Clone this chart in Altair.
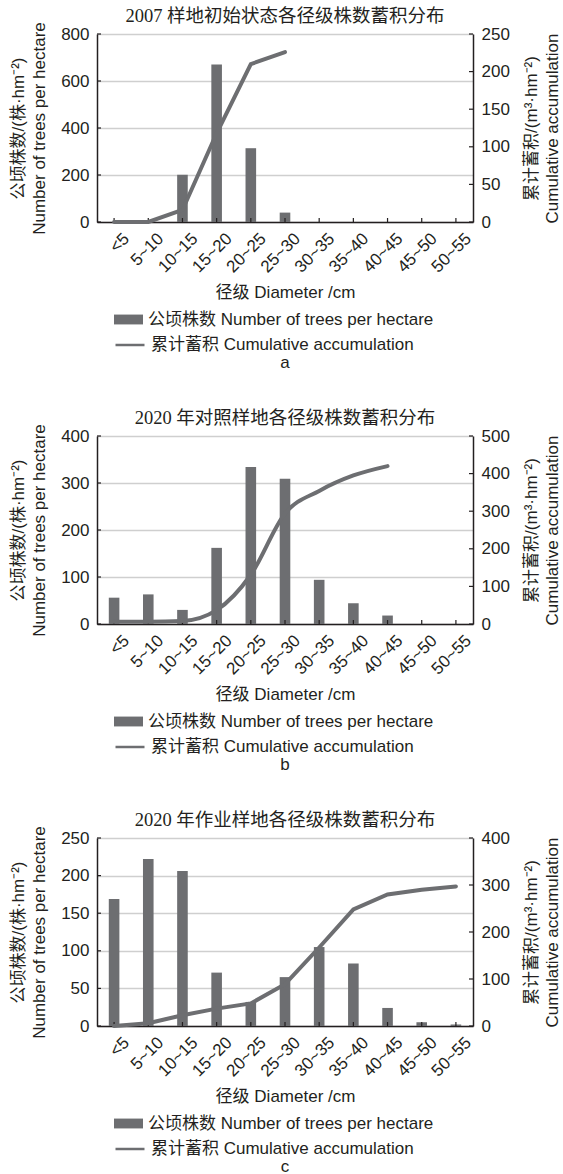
import altair as alt
import pandas as pd

categories = ["<5", "5~10", "10~15", "15~20", "20~25", "25~30",
              "30~35", "35~40", "40~45", "45~50", "50~55"]

# panel a (2007 initial state)
a_trees = [0, 0, 201, 670, 314, 40, 0, 0, 0, 0, 0]
a_cum = [0, 0, 16, 118, 210, 226]
# panel b (2020 control plot)
b_trees = [56, 63, 30, 162, 334, 309, 94, 44, 18, 0, 0]
b_cum = [6, 6, 8, 37, 131, 294, 354, 395, 420]
# panel c (2020 operation plot)
c_trees = [169, 222, 206, 71, 32, 65, 105, 83, 24, 5, 2]
c_cum = [0, 6, 23, 37, 48, 89, 167, 248, 280, 290, 297]

titles = ["2007 样地初始状态各径级株数蓄积分布",
          "2020 年对照样地各径级株数蓄积分布",
          "2020 年作业样地各径级株数蓄积分布"]
captions = ["a", "b", "c"]
left_max = [800, 400, 250]
left_ticks = [[0, 200, 400, 600, 800], [0, 100, 200, 300, 400], [0, 50, 100, 150, 200, 250]]
right_max = [250, 500, 400]
right_ticks = [[0, 50, 100, 150, 200, 250], [0, 100, 200, 300, 400, 500], [0, 100, 200, 300, 400]]
interps = ["linear", "monotone", "linear"]

bar_label = "公顷株数 Number of trees per hectare"
line_label = "累计蓄积 Cumulative accumulation"
left_title = ["公顷株数/(株·hm⁻²)", "Number of trees per hectare"]
right_title = ["累计蓄积/(m³·hm⁻²)", "Cumulative accumulation"]
x_title = "径级 Diameter /cm"

GRAY = "#6d6e71"
INK = "#231f20"
GRID = "#cfcfcf"
SANS = "Liberation Sans, Arial, Noto Sans CJK SC"
SERIF = "Liberation Serif, Times New Roman, Noto Sans CJK SC"
W, H = 376, 188
TICK = 4


def panel(i, trees, cum):
    bars_df = pd.DataFrame({"cat": categories, "n": trees, "s": bar_label})
    line_df = pd.DataFrame({"cat": categories[:len(cum)], "v": cum, "s": line_label})
    cat_df = pd.DataFrame({"cat": categories})
    lt_df = pd.DataFrame({"n": left_ticks[i]})
    rt_df = pd.DataFrame({"v": right_ticks[i]})

    xscale = alt.Scale(domain=categories, paddingInner=0.69, paddingOuter=0.345)
    xaxis = alt.Axis(title=x_title, labelAngle=315, labelFont=SANS, labelFontSize=17,
                     labelColor=INK, labelPadding=8, labelOffset=7, ticks=False,
                     domainColor=INK, domainWidth=1.5, titleFont=SANS, titleFontSize=17,
                     titleFontWeight="normal", titleColor=INK, titlePadding=9,
                     labelLimit=200, labelOverlap=False)
    x = alt.X("cat:N", sort=categories, scale=xscale, axis=xaxis)

    lscale = alt.Scale(domain=[0, left_max[i]], nice=False, zero=True)
    rscale = alt.Scale(domain=[0, right_max[i]], nice=False, zero=True)
    laxis = alt.Axis(values=left_ticks[i], title=left_title, orient="left",
                     grid=True, gridColor=GRID, gridWidth=1.5, ticks=False,
                     domainColor=INK, domainWidth=1.5, labelFont=SANS,
                     labelFontSize=17, labelColor=INK, labelPadding=8,
                     labelOverlap=False, labelBound=False,
                     titleFont=SANS, titleFontSize=17, titleFontWeight="normal",
                     titleColor=INK, titlePadding=12, titleLineHeight=21)
    raxis = alt.Axis(values=right_ticks[i], title=right_title, orient="right",
                     grid=False, ticks=False, domainColor=INK, domainWidth=1.5,
                     labelFont=SANS, labelFontSize=17, labelColor=INK,
                     labelPadding=8, labelOverlap=False, labelBound=False,
                     titleFont=SANS, titleFontSize=17,
                     titleFontWeight="normal", titleColor=INK, titleAngle=270,
                     titlePadding=10, titleLineHeight=21)
    y_left = alt.Y("n:Q", scale=lscale, axis=laxis)
    y_right = alt.Y("v:Q", scale=rscale, axis=raxis)

    bars = alt.Chart(bars_df).mark_bar(strokeWidth=0).encode(
        x=x,
        y=y_left,
        fill=alt.Fill("s:N", scale=alt.Scale(domain=[bar_label], range=[GRAY]),
                      legend=alt.Legend(title=None, orient="none", legendX=17, legendY=271,
                                        symbolType="M-1,-0.34H1V0.34H-1Z", symbolSize=841,
                                        symbolStrokeWidth=0, labelFont=SANS, labelFontSize=17,
                                        labelColor=INK, labelLimit=500, labelOffset=5)),
    )
    xticks = alt.Chart(cat_df).mark_rule(color=INK, strokeWidth=1.2).encode(
        x=x, y=alt.value(H), y2=alt.value(H - TICK))
    lticks = alt.Chart(lt_df).mark_rule(color=INK, strokeWidth=1.2).encode(
        y=y_left, x=alt.value(0), x2=alt.value(TICK))

    line = alt.Chart(line_df).mark_line(strokeWidth=4, interpolate=interps[i],
                                        strokeCap="round").encode(
        x=x,
        y=y_right,
        stroke=alt.Stroke("s:N", scale=alt.Scale(domain=[line_label], range=[GRAY]),
                          legend=alt.Legend(title=None, orient="none", legendX=17, legendY=295,
                                            symbolType="stroke", symbolSize=841,
                                            symbolStrokeWidth=2.5, labelFont=SANS,
                                            labelFontSize=17, labelColor=INK,
                                            labelLimit=500, labelOffset=5)),
    )
    rticks = alt.Chart(rt_df).mark_rule(color=INK, strokeWidth=1.2).encode(
        y=y_right, x=alt.value(W - TICK), x2=alt.value(W))

    left_group = alt.layer(bars, xticks, lticks)
    right_group = alt.layer(line, rticks)
    lay = alt.layer(left_group, right_group).resolve_scale(y="independent").properties(
        width=W, height=H,
        title=alt.TitleParams(titles[i], font=SERIF, fontSize=18.5, fontWeight="normal",
                              color=INK, anchor="middle", frame="group", offset=-4))
    return alt.vconcat(lay, title=alt.TitleParams(captions[i], orient="bottom", font=SANS,
                                                  fontSize=17, fontWeight="normal",
                                                  color=INK, anchor="middle", offset=2))


chart = alt.vconcat(
    panel(0, a_trees, a_cum),
    panel(1, b_trees, b_cum),
    panel(2, c_trees, c_cum),
    spacing=37,
).resolve_scale(fill="independent", stroke="independent").resolve_legend(
    fill="independent", stroke="independent"
).properties(padding={"left": 9, "top": 6, "right": 0, "bottom": 0}
).configure_view(stroke=None).configure(background="white")

chart.save("out.html", embed_options={"renderer": "svg", "actions": False})
